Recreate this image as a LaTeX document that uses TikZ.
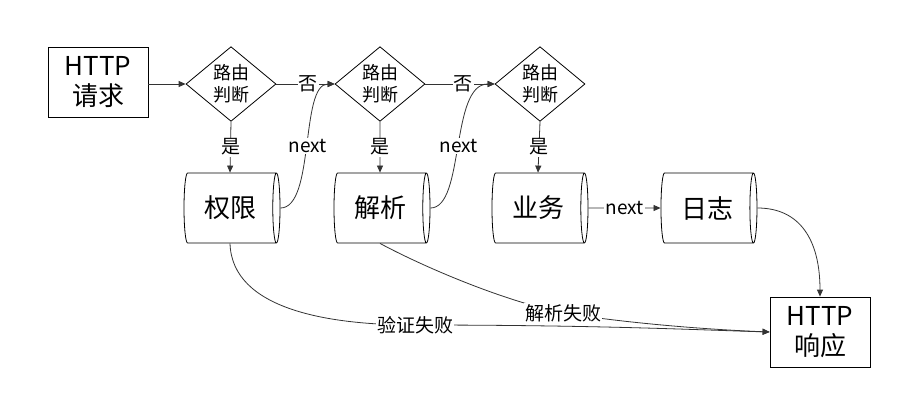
\documentclass[tikz,border=0pt]{standalone}
\usepackage{fontspec}
\setmainfont{Noto Sans CJK SC}
\usetikzlibrary{shapes.geometric,arrows.meta}
\begin{document}
\begin{tikzpicture}[x=1pt,y=-1pt,
  box/.style={draw,thick,minimum width=100pt,minimum height=70pt,inner sep=0,align=center,font=\fontsize{26}{30}\selectfont},
  dia/.style={draw,thick,diamond,minimum width=90pt,minimum height=74pt,inner sep=0,align=center,font=\fontsize{18}{22}\selectfont},
  cyl/.style={draw,thick,cylinder,aspect=0.3,minimum width=70pt,minimum height=96pt,inner sep=0,font=\fontsize{26}{30}\selectfont},
  arr/.style={draw=black!80,thick,-{Triangle[length=7pt,width=6pt]}},
  lab/.style={fill=white,inner sep=1pt,font=\fontsize{19}{22}\selectfont}]
\useasboundingbox (0,0) rectangle (902,400);
\node[box] (req) at (98,82) {HTTP\\请求};
\node[dia] (d1) at (231,84) {路由\\判断};
\node[dia] (d2) at (380,84) {路由\\判断};
\node[dia] (d3) at (540,84) {路由\\判断};
\node[cyl] (c1) at (230,208) {权限\hspace{8pt}};
\node[cyl] (c2) at (380,208) {解析\hspace{8pt}};
\node[cyl] (c3) at (538,208) {业务\hspace{8pt}};
\node[cyl] (c4) at (707,208) {日志\hspace{8pt}};
\node[box] (resp) at (820,332) {HTTP\\响应};
\draw[arr] (req.east|-d1) -- (d1.west);
\draw[arr] (d1.east) -- node[lab,pos=0.55]{否} (d2.west);
\draw[arr] (d2.east) -- node[lab,pos=0.55]{否} (d3.west);
\draw[arr] (d1.south) -- node[lab]{是} (c1.north);
\draw[arr] (d2.south) -- node[lab]{是} (c2.north);
\draw[arr] (d3.south) -- node[lab]{是} (c3.north);
\draw[arr] (c1.east) .. controls (315,208) and (300,84) .. node[lab,pos=0.5]{next} (d2.west);
\draw[arr] (c2.east) .. controls (465,208) and (450,84) .. node[lab,pos=0.5]{next} (d3.west);
\draw[arr] (c3.east) -- node[lab]{next} (c4.west);
\draw[arr] (c4.east) .. controls (800,208) and (820,240) .. (resp.north);
\draw[arr] (c1.south) .. controls (232,310) and (330,325) .. node[lab,pos=1]{验证失败} (415,325) .. controls (600,325) and (700,330) .. (resp.west);
\draw[arr] (c2.south) .. controls (420,265) and (500,300) .. node[lab,pos=1]{解析失败} (563,313) .. controls (640,325) and (720,330) .. (resp.west);
\end{tikzpicture}
\end{document}
